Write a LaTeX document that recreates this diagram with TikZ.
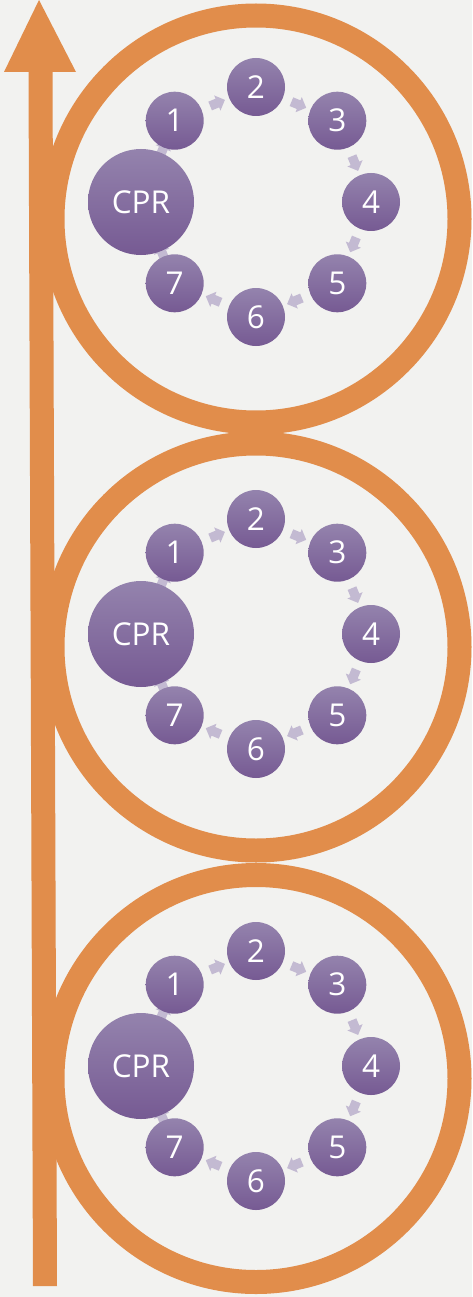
\documentclass[tikz,border=0pt]{standalone}
\usepackage{fontspec}
\setmainfont{Open Sans}
\usetikzlibrary{shapes.arrows}
\definecolor{bgc}{HTML}{F2F2F0}
\definecolor{orng}{HTML}{E18D4B}
\definecolor{ptop}{HTML}{9483AD}
\definecolor{pbot}{HTML}{765A93}
\definecolor{arrc}{HTML}{C3BAD2}
\pgfdeclarelayer{back}
\pgfdeclarelayer{mid}
\pgfsetlayers{back,mid,main}
\tikzset{
  ring/.style={draw=orng, line width=24pt},
  bubble/.style={circle, inner sep=0pt, minimum size=58pt, top color=ptop, bottom color=pbot,
    text=white, font=\fontsize{31.5}{31.5}\selectfont},
  bigbubble/.style={bubble, minimum size=106pt},
  blockarrow/.style={single arrow, fill=arrc, inner sep=0pt, minimum height=16pt,
    single arrow head extend=3.5pt, single arrow tip angle=90,
    sloped, allow upside down}
}
\begin{document}
\begin{tikzpicture}[x=1pt,y=-1pt]
\begin{pgfonlayer}{back}
\fill[bgc] (0,0) rectangle (472,1297);
\foreach \ry in {219,647,1078.5}{
  \draw[ring] (256,\ry) circle[radius=203.5];
}
\fill[orng] (33,1286) -- (57,1286) -- (52.5,71) -- (28.5,71) -- cycle;
\fill[orng] (4,72) -- (76,72) -- (39,0) -- cycle;
\end{pgfonlayer}
\useasboundingbox (0,0) rectangle (472,1297);
\foreach \g/\cy in {a/202,b/634,c/1066}{
  \node[bigbubble] (\g c) at (141,\cy) {CPR};
  \node[bubble] (\g 1) at (174.7,\cy-81.3) {1};
  \node[bubble] (\g 2) at (256,\cy-115) {2};
  \node[bubble] (\g 3) at (337.3,\cy-81.3) {3};
  \node[bubble] (\g 4) at (371,\cy) {4};
  \node[bubble] (\g 5) at (337.3,\cy+81.3) {5};
  \node[bubble] (\g 6) at (256,\cy+115) {6};
  \node[bubble] (\g 7) at (174.7,\cy+81.3) {7};
  \begin{pgfonlayer}{mid}
  \foreach \s/\e in {c/1,1/2,2/3,3/4,4/5,5/6,6/7,7/c}{
    \path (\g\s) -- (\g\e) node[midway, blockarrow] (\g a\s\e) {\rule{0pt}{9pt}};
  }
  \end{pgfonlayer}
}
\end{tikzpicture}
\end{document}
